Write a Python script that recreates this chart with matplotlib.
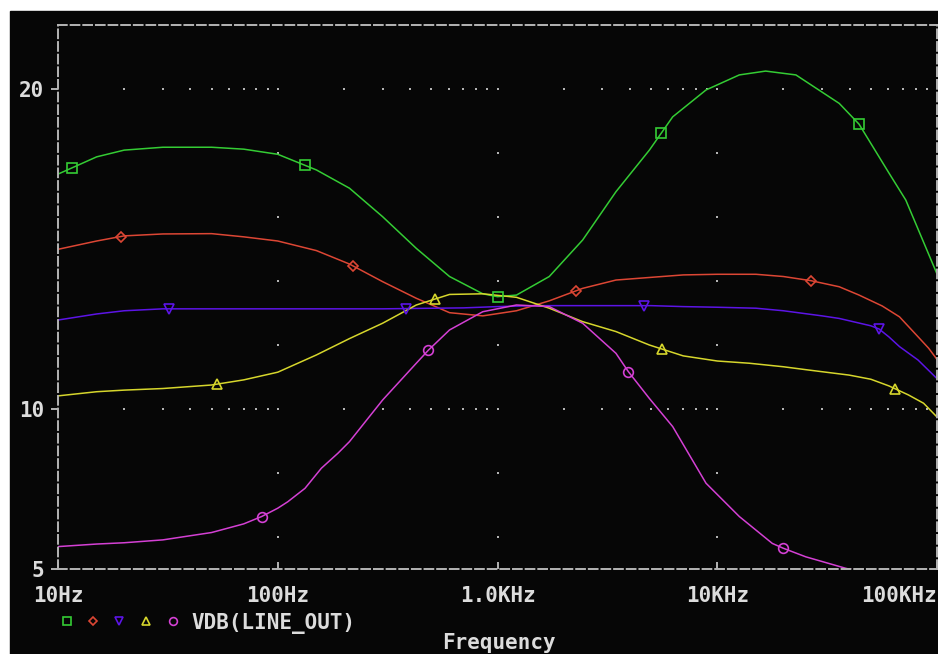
import numpy as np
import matplotlib
matplotlib.use("Agg")
from matplotlib import pyplot as plt
from matplotlib.patches import Rectangle
from matplotlib.lines import Line2D
from matplotlib.ticker import NullLocator

# AC sweep, VDB(LINE_OUT) for five parameter steps (Hz, dB)
freq_green = [10, 15, 20, 30, 50, 70, 100, 150, 212, 300, 427, 605, 857, 1000, 1220, 1720,
              2440, 3460, 4910, 6270, 8890, 12600, 16600, 22800, 35900, 44200, 60500, 72100,
              100000]
vdb_green = [17.34, 17.88, 18.09, 18.18, 18.18, 18.12, 17.96, 17.47, 16.9, 16.01, 15.02, 14.14,
             13.6, 13.51, 13.56, 14.14, 15.28, 16.79, 18.09, 19.13, 19.97, 20.44, 20.56, 20.44,
             19.55, 18.9, 17.37, 16.53, 14.22]

freq_red = [10, 15, 20, 30, 50, 70, 100, 150, 212, 300, 427, 605, 857, 1220, 1720, 2440, 3460,
            4910, 7000, 10000, 15000, 20000, 26700, 35900, 44200, 56300, 67500, 79400, 91600,
            100000]
vdb_red = [14.99, 15.25, 15.41, 15.47, 15.48, 15.38, 15.25, 14.95, 14.53, 13.98, 13.46, 13.01,
           12.91, 13.07, 13.38, 13.77, 14.03, 14.11, 14.19, 14.21, 14.21, 14.14, 14.01, 13.82,
           13.56, 13.22, 12.88, 12.36, 11.9, 11.55]

freq_blue = [10, 15, 20, 30, 100, 300, 700, 1000, 1500, 5000, 7000, 10000, 15000, 20000, 30000,
             35900, 50000, 54500, 60500, 67500, 82000, 100000]
vdb_blue = [12.78, 12.97, 13.07, 13.13, 13.13, 13.13, 13.16, 13.2, 13.23, 13.23, 13.2, 13.18,
            13.15, 13.07, 12.91, 12.83, 12.6, 12.5, 12.25, 11.95, 11.53, 10.95]

freq_yellow = [10, 15, 20, 30, 50, 70, 100, 150, 212, 300, 427, 605, 857, 1220, 1720, 2440,
               3460, 4910, 7000, 10000, 14000, 20000, 25900, 39800, 50000, 60500, 74100, 86900,
               100000]
vdb_yellow = [10.41, 10.54, 10.59, 10.64, 10.75, 10.91, 11.15, 11.69, 12.2, 12.68, 13.25, 13.58,
              13.6, 13.49, 13.15, 12.73, 12.42, 12.0, 11.66, 11.5, 11.43, 11.32, 11.22, 11.06,
              10.93, 10.72, 10.44, 10.18, 9.75]

freq_magenta = [10, 15, 20, 30, 50, 70, 84.5, 100, 111, 133, 158, 188, 212, 300, 427, 485, 605,
                857, 1220, 1720, 2440, 3460, 3937, 4910, 6270, 8890, 12600, 17800, 19950, 25300,
                38500, 50000]
vdb_magenta = [5.70, 5.78, 5.82, 5.91, 6.14, 6.41, 6.64, 6.9, 7.1, 7.52, 8.15, 8.62, 8.98, 10.28,
               11.43, 11.84, 12.47, 13.04, 13.25, 13.2, 12.68, 11.74, 11.17, 10.33, 9.45, 7.68,
               6.64, 5.8, 5.65, 5.38, 5.02, 4.85]

# where the trace symbols sit
mark_green = [11.6, 133, 1000, 5550, 44200]
mark_red = [19.3, 221, 2265, 26700]
mark_blue = [32, 385, 4656, 54500]
mark_yellow = [52.8, 522, 5623, 64700]
mark_magenta = [84.5, 485, 3937, 19950]

xticks = [10, 100, 1e3, 1e4, 1e5]
xtick_labels = ["10Hz", "100Hz", "1.0KHz", "10KHz", "100KHz"]
yticks = [5, 10, 20]
ytick_labels = ["5", "10", "20"]

BG = "#060606"
FG = "#dcdcdc"
DOT = "#b4b4b4"

plt.rcParams["font.family"] = ["DejaVu Sans Mono"]
plt.rcParams["font.weight"] = "bold"

W, H = 938, 654
fig = plt.figure(figsize=(W / 100, H / 100), dpi=100, facecolor="white")
fig.patches.append(Rectangle((10 / W, 0), 1, (H - 11) / H, transform=fig.transFigure,
                             color=BG, zorder=-10))
ax = fig.add_axes([58 / W, 85 / H, 879 / W, 544 / H])
ax.set_zorder(2)
ax.set_facecolor(BG)
ax.set_xscale("log")
ax.set_xlim(10, 1e5)
ax.set_ylim(5, 22)

# dotted grid like the probe window
minor_x = [k * 10 ** d for d in range(1, 5) for k in range(1, 10)][1:]
for yv in [10, 20]:
    ax.scatter(minor_x, [yv] * len(minor_x), s=2.2, marker="s", color=DOT, lw=0, zorder=1)
col_y = [6, 8, 12, 14, 16, 18]
for xv in [100, 1e3, 1e4]:
    ax.scatter([xv] * len(col_y), col_y, s=2.2, marker="s", color=DOT, lw=0, zorder=1)

traces = [
    (freq_green, vdb_green, mark_green, "#34cc34", "s", 7),
    (freq_red, vdb_red, mark_red, "#dc4634", "D", 5.5),
    (freq_blue, vdb_blue, mark_blue, "#5c14e6", "v", 7.5),
    (freq_yellow, vdb_yellow, mark_yellow, "#d6d62c", "^", 7.5),
    (freq_magenta, vdb_magenta, mark_magenta, "#d440d4", "o", 7),
]
for f, vals, mf, c, m, ms in traces:
    ax.plot(f, vals, color=c, lw=1.1, zorder=2)
    my = np.interp(np.log10(mf), np.log10(f), vals)
    ax.plot(mf, my, ls="none", marker=m, mfc="none", mec=c, ms=ms, mew=1.2, zorder=3)

for s in ax.spines.values():
    s.set_color(DOT)
    s.set_linewidth(1.4)
    s.set_linestyle((0, (4.5, 2)))

ax.set_xticks(xticks)
ax.set_xticklabels(xtick_labels)
ax.xaxis.set_minor_locator(NullLocator())
ax.set_yticks(yticks)
ax.set_yticklabels(ytick_labels)
ax.yaxis.set_minor_locator(NullLocator())
ax.tick_params(axis="x", direction="in", length=5, width=1.4, color=DOT, pad=12,
               labelsize=15, labelcolor=FG)
ax.tick_params(axis="y", direction="out", length=5, width=1.4, color=DOT, pad=5,
               labelsize=15, labelcolor=FG)
ax.get_xticklabels()[-1].set_horizontalalignment("right")

# legend row under the axis
for x, (f, vals, mf, c, m, ms) in zip([67, 93, 119, 146, 172.5], traces):
    fig.add_artist(Line2D([x / W], [(H - 621) / H], ls="none", marker=m, mfc="none",
                          mec=c, ms=ms * 0.8, mew=1.2, transform=fig.transFigure))
fig.text(191 / W, (H - 629) / H, "VDB(LINE_OUT)", color=FG, fontsize=15, va="baseline")
fig.text(498.5 / W, 5 / H, "Frequency", color=FG, fontsize=15, ha="center", va="baseline")

fig.savefig("out.png", dpi=100, facecolor=fig.get_facecolor())
